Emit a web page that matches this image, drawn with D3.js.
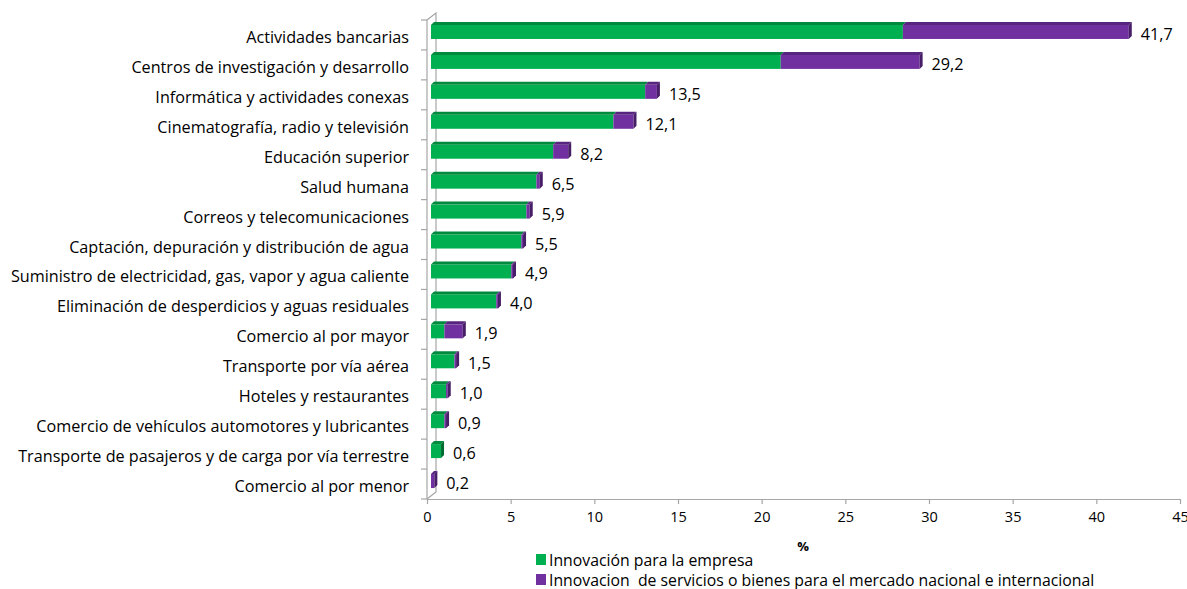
<!DOCTYPE html>
<html>
<head>
<meta charset="utf-8">
<script src="https://cdn.jsdelivr.net/npm/d3@7/dist/d3.min.js"></script>
<style>
	body { margin: 0; background: #fff; }
	svg { display: block; font-family: 'Open Sans', sans-serif; }
</style>
</head>
<body>
<div id="chart"></div>
<script>
const categories = [
	'Actividades bancarias',
	'Centros de investigación y desarrollo',
	'Informática y actividades conexas',
	'Cinematografía, radio y televisión',
	'Educación superior',
	'Salud humana',
	'Correos y telecomunicaciones',
	'Captación, depuración y distribución de agua',
	'Suministro de electricidad, gas, vapor y agua caliente',
	'Eliminación de desperdicios y aguas residuales',
	'Comercio al por mayor',
	'Transporte por vía aérea',
	'Hoteles y restaurantes',
	'Comercio de vehículos automotores y lubricantes',
	'Transporte de pasajeros y de carga por vía terrestre',
	'Comercio al por menor',
]
// Innovación para la empresa
const innovEmpresa = [28.2, 20.9, 12.8, 10.9, 7.3, 6.3, 5.7, 5.4, 4.8, 3.9, 0.8, 1.4, 0.9, 0.8, 0.6, 0.0]
// Innovacion de servicios o bienes para el mercado nacional e internacional
const innovMercado = [13.5, 8.3, 0.7, 1.2, 0.9, 0.2, 0.2, 0.1, 0.1, 0.1, 1.1, 0.1, 0.1, 0.1, 0.0, 0.2]
const totalLabels = ['41,7', '29,2', '13,5', '12,1', '8,2', '6,5', '5,9', '5,5', '4,9', '4,0', '1,9', '1,5', '1,0', '0,9', '0,6', '0,2']
const xTicks = [0, 5, 10, 15, 20, 25, 30, 35, 40, 45]
const seriesNames = ['Innovación para la empresa', 'Innovacion  de servicios o bienes para el mercado nacional e internacional']

const width = 1187
const height = 589
const axisColor = '#a6a6a6'
const colors = [
	{ front: '#00b050', top: '#008a3e', side: '#006b30' },
	{ front: '#7030a0', top: '#57247f', side: '#461d66' },
]
const depth = 3 // 3d offset of bars
const wall = { dx: 9, dy: 7 } // offset of back wall
const fontSize = 16.2

const svg = d3.select('#chart').append('svg').attr('width', width).attr('height', height)

const x = d3.scaleLinear().domain([0, 45]).range([427, 1180])
const y = d3.scaleBand().domain(categories).range([20, 499])

//------------------- walls / axes -------------------
const axes = svg.append('g').attr('stroke', axisColor).attr('stroke-width', 1.2).attr('fill', 'none')
axes.append('path').attr('d', `M${x(0)},${y.range()[0]}V${y.range()[1]}`)
axes.append('path').attr('d', `M${x(0)},${y.range()[0]}l${wall.dx},${-wall.dy}V${y.range()[1] - wall.dy}l${-wall.dx},${wall.dy}`)
// category ticks at band edges
const edges = categories.map(c => y(c)).concat([y.range()[1]])
axes.selectAll('.ctick')
	.data(edges)
	.enter()
	.append('line')
	.attr('x1', x(0) - 6)
	.attr('x2', x(0))
	.attr('y1', d => d)
	.attr('y2', d => d)

const xAxis = svg.append('g')
	.attr('transform', `translate(0,${y.range()[1]})`)
	.call(d3.axisBottom(x).tickValues(xTicks).tickSize(5).tickSizeOuter(0).tickPadding(8))
xAxis.select('.domain').attr('stroke', axisColor).attr('stroke-width', 1.2)
xAxis.selectAll('.tick line').attr('stroke', axisColor).attr('stroke-width', 1.2)
xAxis.selectAll('.tick text').attr('font-size', 14.5).attr('fill', '#000').attr('font-family', "'Open Sans', sans-serif")

svg.append('text')
	.attr('x', 803)
	.attr('y', 551)
	.attr('text-anchor', 'middle')
	.attr('font-size', 13)
	.attr('font-weight', 'bold')
	.text('%')

//------------------- category labels -------------------
svg.append('g')
	.selectAll('text')
	.data(categories)
	.enter()
	.append('text')
	.attr('x', 409)
	.attr('y', d => y(d) + y.bandwidth() / 2 + 2)
	.attr('dominant-baseline', 'central')
	.attr('text-anchor', 'end')
	.attr('font-size', fontSize)
	.attr('fill', '#000')
	.text(d => d)

//------------------- bars -------------------
const rows = categories.map((c, i) => {
	const segs = []
	let start = 0
	;[innovEmpresa[i], innovMercado[i]].forEach((v, s) => {
		if (v > 0) segs.push({ s, start, end: start + v })
		start += v
	})
	return { cat: c, segs, total: start, label: totalLabels[i] }
})

const barG = svg.append('g')
const barH = 14
rows.forEach(r => {
	const top = y(r.cat) + y.bandwidth() / 2 - 10
	r.segs.forEach((seg, k) => {
		const x0 = x(seg.start) + 4
		const x1 = x(seg.end) + 4
		const c = colors[seg.s]
		barG.append('rect')
			.attr('x', x0)
			.attr('y', top)
			.attr('width', x1 - x0)
			.attr('height', barH)
			.attr('fill', c.front)
		barG.append('path')
			.attr('d', `M${x0},${top}L${x0 + depth},${top - depth}L${x1 + depth},${top - depth}L${x1},${top}Z`)
			.attr('fill', c.top)
		if (k === r.segs.length - 1) {
			barG.append('path')
				.attr('d', `M${x1},${top}L${x1 + depth},${top - depth}L${x1 + depth},${top + barH - depth}L${x1},${top + barH}Z`)
				.attr('fill', c.side)
		}
	})
	svg.append('text')
		.attr('x', x(r.total) + 4 + depth + 9)
		.attr('y', y(r.cat) + y.bandwidth() / 2 - 1)
		.attr('dominant-baseline', 'central')
		.attr('font-size', fontSize)
		.attr('fill', '#000')
		.text(r.label)
})

//------------------- legend -------------------
const legend = svg.append('g')
seriesNames.forEach((name, i) => {
	legend.append('rect')
		.attr('x', 536)
		.attr('y', 554 + i * 20)
		.attr('width', 10)
		.attr('height', 11)
		.attr('fill', colors[i].front)
	legend.append('text')
		.attr('x', 549)
		.attr('y', 560 + i * 20)
		.attr('dominant-baseline', 'central')
		.attr('font-size', 15.8)
		.attr('fill', '#000')
		.style('white-space', 'pre')
		.text(name)
})
</script>
</body>
</html>
